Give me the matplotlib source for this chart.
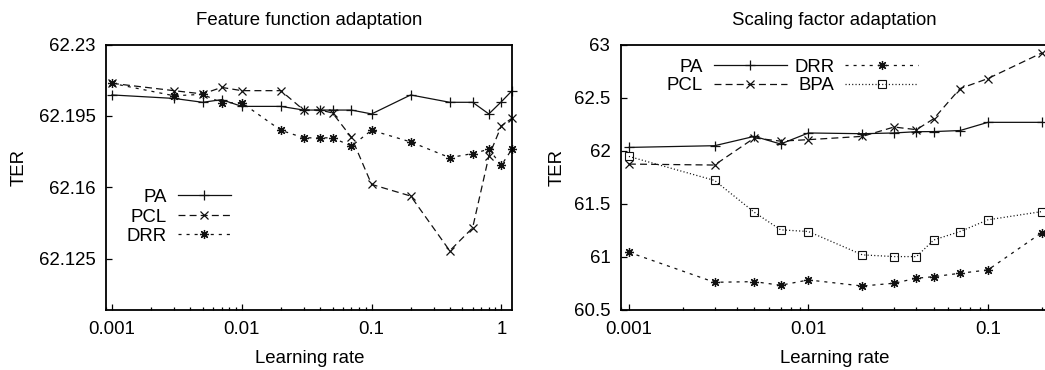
import matplotlib
matplotlib.use('Agg')
import matplotlib.pyplot as plt
from matplotlib.lines import Line2D
from matplotlib.ticker import FixedLocator, FixedFormatter, LogLocator, NullFormatter

plt.rcParams['font.family'] = ['Liberation Sans', 'DejaVu Sans']
plt.rcParams['lines.scale_dashes'] = False

# ---------------- data ----------------
lr_feat = [0.001, 0.003, 0.005, 0.007, 0.01, 0.02, 0.03, 0.04, 0.05, 0.07,
           0.1, 0.2, 0.4, 0.6, 0.8, 1.0, 1.2]
feat_pa = [62.2053, 62.2036, 62.2017, 62.2030, 62.1997, 62.1997, 62.1979, 62.1979,
           62.1979, 62.1979, 62.1960, 62.2053, 62.2017, 62.2017, 62.1960, 62.2020, 62.2072]
feat_pcl = [62.2110, 62.2074, 62.2058, 62.2090, 62.2074, 62.2074, 62.1979, 62.1979,
            62.1965, 62.1845, 62.1615, 62.1558, 62.1290, 62.1402, 62.1753, 62.1902, 62.1938]
feat_drr = [62.2110, 62.2049, 62.2056, 62.2015, 62.2015, 62.1880, 62.1843, 62.1843,
            62.1843, 62.1803, 62.1880, 62.1823, 62.1746, 62.1766, 62.1787, 62.1709, 62.1786]

lr_scale = [0.001, 0.003, 0.005, 0.007, 0.01, 0.02, 0.03, 0.04, 0.05, 0.07, 0.1, 0.2]
scale_pa = [62.031, 62.047, 62.135, 62.063, 62.167, 62.160, 62.167, 62.179, 62.180,
            62.190, 62.267, 62.267]
scale_pcl = [61.874, 61.865, 62.120, 62.090, 62.104, 62.135, 62.223, 62.198, 62.302,
             62.585, 62.679, 62.921]
scale_drr = [61.044, 60.761, 60.767, 60.733, 60.783, 60.726, 60.752, 60.799, 60.814,
             60.846, 60.877, 61.229]
scale_bpa = [61.946, 61.720, 61.420, 61.255, 61.239, 61.019, 61.003, 61.003, 61.160,
             61.239, 61.349, 61.427]

feat_yticks = [62.125, 62.16, 62.195, 62.23]
feat_yticklabels = ['62.125', '62.16', '62.195', '62.23']
scale_yticks = [60.5, 61, 61.5, 62, 62.5, 63]
scale_yticklabels = ['60.5', '61', '61.5', '62', '62.5', '63']
feat_xticks = [0.001, 0.01, 0.1, 1]
feat_xticklabels = ['0.001', '0.01', '0.1', '1']
scale_xticks = [0.001, 0.01, 0.1]
scale_xticklabels = ['0.001', '0.01', '0.1']

titles = ['Feature function adaptation', 'Scaling factor adaptation']
xlabel = 'Learning rate'
ylabel = 'TER'

# ---------------- style ----------------
W, H = 1045, 370
FS = 13.4
LC = '#111111'
LW = 0.9
STY = {
    'PA':  dict(linestyle='-', marker='+', ms=7.0, mew=0.9),
    'PCL': dict(dashes=(5.0, 3.0), marker='x', ms=6.0, mew=0.9),
    'DRR': dict(dashes=(2.2, 3.6), marker=(8, 2, 0), ms=6.5, mew=0.9),
    'BPA': dict(dashes=(0.8, 1.6), marker='s', ms=5.5, mew=0.8, mfc='none'),
}

fig = plt.figure(figsize=(W / 100, H / 100), dpi=100)


def fx(x):
    return x / W


def fy(y):
    return 1 - y / H


def make_axes(x0, x1, y0, y1):
    return fig.add_axes([fx(x0), fy(y1), fx(x1) - fx(x0), fy(y0) - fy(y1)])


def style_axes(ax, xticks, xticklabels, yticks, yticklabels, right=True):
    ax.set_xscale('log')
    ax.xaxis.set_major_locator(FixedLocator(xticks))
    ax.xaxis.set_major_formatter(FixedFormatter(xticklabels))
    ax.xaxis.set_minor_locator(LogLocator(base=10, subs=range(2, 10), numticks=20))
    ax.xaxis.set_minor_formatter(NullFormatter())
    ax.yaxis.set_major_locator(FixedLocator(yticks))
    ax.yaxis.set_major_formatter(FixedFormatter(yticklabels))
    ax.tick_params(axis='both', which='major', direction='in', length=4.5, width=0.9,
                   labelsize=FS, top=False, right=False, colors='black')
    ax.tick_params(axis='both', which='minor', direction='in', length=2.5, width=0.9,
                   top=False, right=False)
    ax.tick_params(axis='x', pad=8.0)
    ax.tick_params(axis='y', pad=7.5)
    for s in ax.spines.values():
        s.set_linewidth(1.3)
    ax.spines['right'].set_visible(right)


def draw(ax, x, y, name):
    ax.plot(x, y, color=LC, lw=LW, mec=LC, clip_on=False, **STY[name])


def legend_entry(xr, xa, xb, y, name):
    fig.text(fx(xr), fy(y + 7), name, ha='right', va='baseline', fontsize=FS)
    st = dict(STY[name])
    mk = dict(marker=st.pop('marker'), ms=st.pop('ms'), mew=st.pop('mew'))
    if 'mfc' in st:
        mk['mfc'] = st.pop('mfc')
    fig.add_artist(Line2D([fx(xa), fx(xb)], [fy(y), fy(y)], transform=fig.transFigure,
                          color=LC, lw=LW, **st))
    fig.add_artist(Line2D([fx((xa + xb) / 2)], [fy(y)], transform=fig.transFigure,
                          color=LC, mec=LC, linestyle='none', **mk))


# ---------------- left panel ----------------
ax1 = make_axes(106, 511.7, 44.5, 310)
ax1.set_xlim(0.0009, 1.2)
ax1.set_ylim(62.1, 62.23)
style_axes(ax1, feat_xticks, feat_xticklabels, feat_yticks, feat_yticklabels)
draw(ax1, lr_feat, feat_pa, 'PA')
draw(ax1, lr_feat, feat_pcl, 'PCL')
draw(ax1, lr_feat, feat_drr, 'DRR')

# ---------------- right panel ----------------
ax2 = make_axes(620.7, 1047, 44.5, 310)
ax2.set_xlim(0.0009, 0.2135)
ax2.set_ylim(60.5, 63)
style_axes(ax2, scale_xticks, scale_xticklabels, scale_yticks, scale_yticklabels, right=False)
draw(ax2, lr_scale, scale_pa, 'PA')
draw(ax2, lr_scale, scale_pcl, 'PCL')
draw(ax2, lr_scale, scale_drr, 'DRR')
draw(ax2, lr_scale, scale_bpa, 'BPA')

# ---------------- legends ----------------
for i, name in enumerate(['PA', 'PCL', 'DRR']):
    legend_entry(166.7, 177.5, 230.7, 195 + 19.5 * i, name)
for i, name in enumerate(['PA', 'PCL']):
    legend_entry(702.7, 713.5, 787, 64.5 + 19 * i, name)
for i, name in enumerate(['DRR', 'BPA']):
    legend_entry(834.5, 845, 918.3, 64.5 + 19 * i, name)

# ---------------- titles / labels ----------------
fig.text(fx(309), fy(25), titles[0], ha='center', va='baseline', fontsize=FS)
fig.text(fx(834), fy(25), titles[1], ha='center', va='baseline', fontsize=FS)
fig.text(fx(309.5), fy(363), xlabel, ha='center', va='baseline', fontsize=FS)
fig.text(fx(835), fy(363), xlabel, ha='center', va='baseline', fontsize=FS)
fig.text(fx(19), fy(167), ylabel, ha='center', va='center', rotation=90, fontsize=FS)
fig.text(fx(557), fy(167), ylabel, ha='center', va='center', rotation=90, fontsize=FS)

fig.savefig('out.png', dpi=100)
